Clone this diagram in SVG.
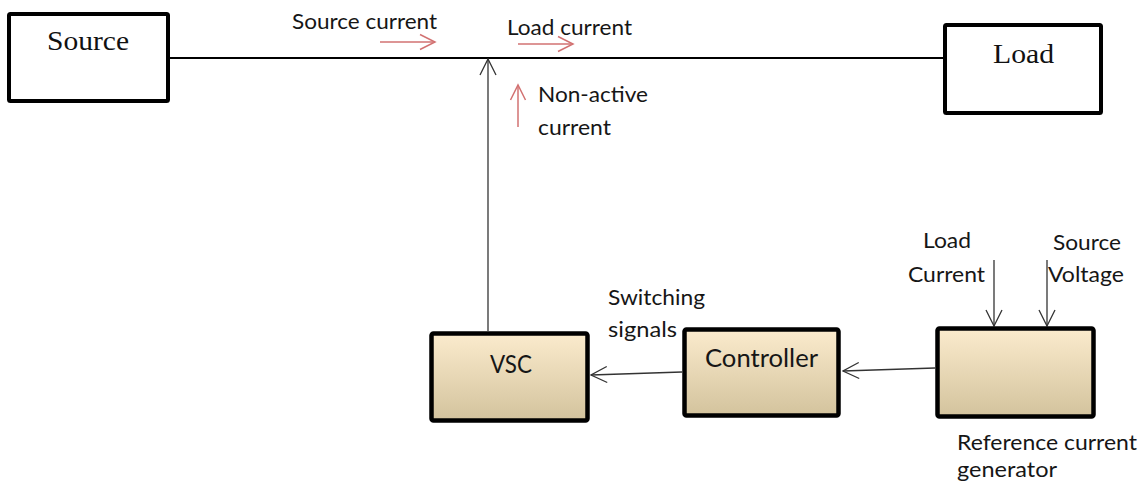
<svg xmlns="http://www.w3.org/2000/svg" width="1146" height="481" viewBox="0 0 1146 481">
  <defs>
    <linearGradient id="beige" x1="0" y1="0" x2="0" y2="1">
      <stop offset="0" stop-color="#fbebcd"/>
      <stop offset="1" stop-color="#d3c39d"/>
    </linearGradient>
    <marker id="open-dark" viewBox="0 0 18 18" refX="17" refY="9" markerWidth="18" markerHeight="18" markerUnits="userSpaceOnUse" orient="auto">
      <path d="M1,1 L17,9 L1,17" fill="none" stroke="#333" stroke-width="1.3"/>
    </marker>
    <marker id="open-red" viewBox="0 0 18 18" refX="16" refY="9" markerWidth="18" markerHeight="18" markerUnits="userSpaceOnUse" orient="auto">
      <path d="M1,1.5 L16,9 L1,16.5" fill="none" stroke="#d27272" stroke-width="1.5"/>
    </marker>
  </defs>
  <style>
    .plain { fill: #ffffff; stroke: #000; stroke-width: 4; }
    .block { fill: url(#beige); stroke: #000; stroke-width: 4.5; }
    .serif { font-family: "Liberation Serif", "Times New Roman", serif; font-size: 28px; fill: #111; }
    .label { font-family: Lato, "Open Sans", "Liberation Sans", sans-serif; font-size: 21px; fill: #161616; }
    .boxlabel { font-family: Lato, "Open Sans", "Liberation Sans", sans-serif; font-size: 25px; fill: #161616; }
    .wire { stroke: #333; stroke-width: 1.3; fill: none; }
    .bus { stroke: #000; stroke-width: 2; fill: none; }
    .flow { stroke: #d27272; stroke-width: 1.5; fill: none; }
  </style>

  <rect width="1146" height="481" fill="#ffffff"/>

  <!-- connectors -->
  <g id="connectors">
    <line class="bus" x1="169" y1="58" x2="943" y2="58"/>
    <line class="wire" x1="488" y1="331" x2="488" y2="59" marker-end="url(#open-dark)"/>
    <line class="wire" x1="682" y1="372" x2="591" y2="375" marker-end="url(#open-dark)"/>
    <line class="wire" x1="935" y1="368" x2="843" y2="371" marker-end="url(#open-dark)"/>
    <line class="wire" x1="994" y1="260" x2="994" y2="326" marker-end="url(#open-dark)"/>
    <line class="wire" x1="1047" y1="260" x2="1047" y2="326" marker-end="url(#open-dark)"/>
    <!-- current direction indicators -->
    <line class="flow" x1="380" y1="42" x2="435" y2="42" marker-end="url(#open-red)"/>
    <line class="flow" x1="518" y1="44" x2="573" y2="44" marker-end="url(#open-red)"/>
    <line class="flow" x1="518" y1="127" x2="518" y2="85" marker-end="url(#open-red)"/>
  </g>

  <!-- current labels -->
  <g id="labels">
    <text class="label" x="292" y="29" textLength="145" lengthAdjust="spacingAndGlyphs">Source current</text>
    <text class="label" x="507" y="35" textLength="125" lengthAdjust="spacingAndGlyphs">Load current</text>
    <text class="label" x="538" y="102" textLength="110" lengthAdjust="spacingAndGlyphs">Non-active</text>
    <text class="label" x="538" y="135" textLength="73" lengthAdjust="spacingAndGlyphs">current</text>
    <text class="label" x="608" y="305" textLength="97" lengthAdjust="spacingAndGlyphs">Switching</text>
    <text class="label" x="608" y="337" textLength="69" lengthAdjust="spacingAndGlyphs">signals</text>
    <text class="label" x="923" y="248" textLength="48" lengthAdjust="spacingAndGlyphs">Load</text>
    <text class="label" x="908" y="282" textLength="77" lengthAdjust="spacingAndGlyphs">Current</text>
    <text class="label" x="1053" y="250" textLength="68" lengthAdjust="spacingAndGlyphs">Source</text>
    <text class="label" x="1048" y="282" textLength="76" lengthAdjust="spacingAndGlyphs">Voltage</text>
  </g>

  <!-- nodes -->
  <g id="source">
    <rect class="plain" x="9" y="14" width="159" height="87" rx="1.5"/>
    <text class="serif" x="47" y="50" textLength="82" lengthAdjust="spacingAndGlyphs">Source</text>
  </g>

  <g id="load">
    <rect class="plain" x="945" y="25" width="156" height="88" rx="1.5"/>
    <text class="serif" x="993" y="63" textLength="61" lengthAdjust="spacingAndGlyphs">Load</text>
  </g>

  <g id="vsc">
    <rect class="block" x="431.5" y="333.5" width="156" height="87" rx="2"/>
    <text class="boxlabel" x="490" y="373" textLength="42" lengthAdjust="spacingAndGlyphs">VSC</text>
  </g>

  <g id="controller">
    <rect class="block" x="684.5" y="329.5" width="154" height="86" rx="2"/>
    <text class="boxlabel" x="705" y="367" textLength="113" lengthAdjust="spacingAndGlyphs">Controller</text>
  </g>

  <g id="reference-generator">
    <rect class="block" x="937.5" y="328.5" width="156" height="88" rx="2"/>
    <text class="label" x="957" y="450" textLength="180" lengthAdjust="spacingAndGlyphs">Reference current</text>
    <text class="label" x="957" y="477" textLength="100" lengthAdjust="spacingAndGlyphs">generator</text>
  </g>
</svg>
